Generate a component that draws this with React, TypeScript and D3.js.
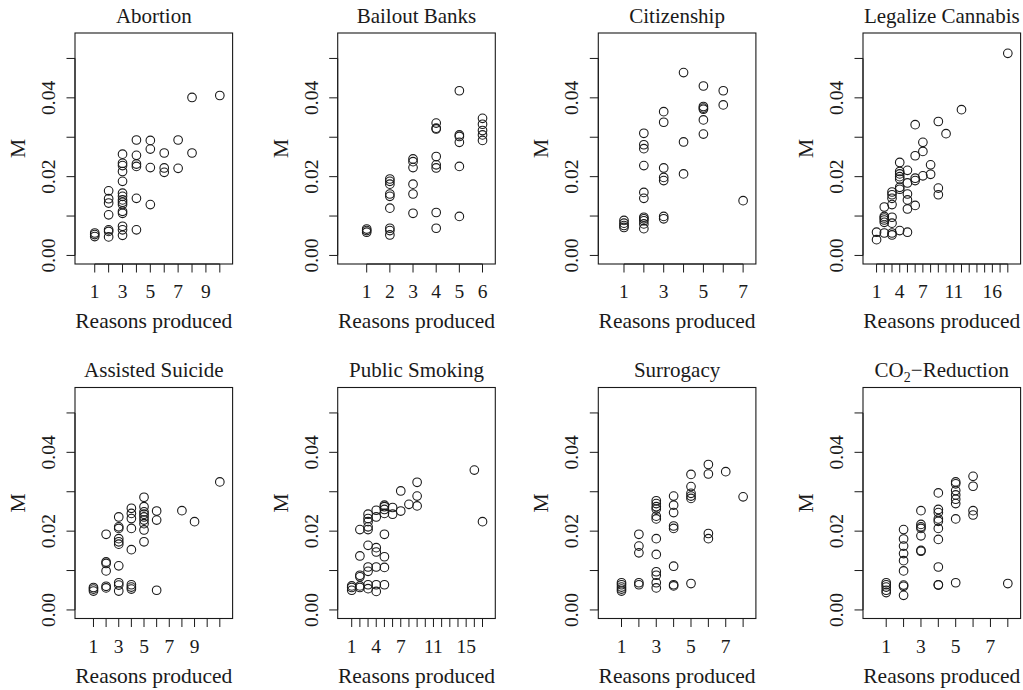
import React from 'react'
import * as d3 from 'd3'

type Group = [number, number[]]

// y values of M grouped by number of reasons produced
const abortion: Group[] = [
    [1, [0.0057, 0.0053, 0.0048]],
    [2, [0.0164, 0.0144, 0.0133, 0.0103, 0.0065, 0.0061, 0.0047]],
    [3, [0.0257, 0.0234, 0.0228, 0.0213, 0.0188, 0.0158, 0.0150, 0.0141, 0.0135, 0.0129, 0.0112, 0.0107, 0.0074, 0.0065, 0.0051]],
    [4, [0.0293, 0.0254, 0.0232, 0.0226, 0.0145, 0.0065]],
    [5, [0.0292, 0.0270, 0.0223, 0.0129]],
    [6, [0.0260, 0.0222, 0.0211]],
    [7, [0.0293, 0.0221]],
    [8, [0.0401, 0.0260]],
    [10, [0.0406]],
]

const bailout: Group[] = [
    [1, [0.0067, 0.0063, 0.0059]],
    [2, [0.0194, 0.0188, 0.0181, 0.0156, 0.0150, 0.0120, 0.0069, 0.0063, 0.0052]],
    [3, [0.0245, 0.0238, 0.0223, 0.0181, 0.0156, 0.0107]],
    [4, [0.0336, 0.0323, 0.0321, 0.0251, 0.0230, 0.0222, 0.0109, 0.0069]],
    [5, [0.0418, 0.0306, 0.0302, 0.0287, 0.0226, 0.0099]],
    [6, [0.0348, 0.0333, 0.0317, 0.0306, 0.0292]],
]

const citizenship: Group[] = [
    [1, [0.0089, 0.0082, 0.0076, 0.0071]],
    [2, [0.0310, 0.0281, 0.0271, 0.0228, 0.0160, 0.0145, 0.0097, 0.0093, 0.0088, 0.0080, 0.0068]],
    [3, [0.0365, 0.0338, 0.0222, 0.0198, 0.0190, 0.0099, 0.0093]],
    [4, [0.0464, 0.0288, 0.0207]],
    [5, [0.0430, 0.0378, 0.0374, 0.0371, 0.0344, 0.0308]],
    [6, [0.0418, 0.0382]],
    [7, [0.0139]],
]

const cannabis: Group[] = [
    [1, [0.0059, 0.0040]],
    [2, [0.0123, 0.0099, 0.0095, 0.0090, 0.0084, 0.0057]],
    [3, [0.0161, 0.0154, 0.0145, 0.0129, 0.0097, 0.0082, 0.0057, 0.0052]],
    [4, [0.0236, 0.0213, 0.0207, 0.0200, 0.0194, 0.0173, 0.0168, 0.0063]],
    [5, [0.0216, 0.0184, 0.0156, 0.0141, 0.0118, 0.0059]],
    [6, [0.0332, 0.0253, 0.0196, 0.0190, 0.0127]],
    [7, [0.0287, 0.0264, 0.0202]],
    [8, [0.0230, 0.0206]],
    [9, [0.0340, 0.0171, 0.0154]],
    [10, [0.0309]],
    [12, [0.0370]],
    [18, [0.0513]],
]

const suicide: Group[] = [
    [1, [0.0057, 0.0053, 0.0048]],
    [2, [0.0192, 0.0122, 0.0118, 0.0099, 0.0060, 0.0056]],
    [3, [0.0236, 0.0211, 0.0207, 0.0181, 0.0173, 0.0167, 0.0112, 0.0069, 0.0063, 0.0048]],
    [4, [0.0258, 0.0245, 0.0232, 0.0207, 0.0153, 0.0064, 0.0058, 0.0053]],
    [5, [0.0286, 0.0262, 0.0249, 0.0243, 0.0236, 0.0228, 0.0219, 0.0203, 0.0173]],
    [6, [0.0251, 0.0228, 0.0050]],
    [8, [0.0252]],
    [9, [0.0224]],
    [11, [0.0325]],
]

const smoking: Group[] = [
    [1, [0.0061, 0.0057, 0.0050]],
    [2, [0.0204, 0.0137, 0.0088, 0.0084, 0.0061, 0.0057]],
    [3, [0.0243, 0.0232, 0.0224, 0.0211, 0.0204, 0.0164, 0.0109, 0.0098, 0.0064, 0.0054]],
    [4, [0.0253, 0.0236, 0.0158, 0.0147, 0.0109, 0.0064, 0.0047]],
    [5, [0.0266, 0.0262, 0.0255, 0.0245, 0.0192, 0.0135, 0.0108, 0.0064]],
    [6, [0.0260, 0.0243]],
    [7, [0.0302, 0.0251]],
    [8, [0.0268]],
    [9, [0.0324, 0.0289, 0.0264]],
    [16, [0.0355]],
    [17, [0.0224]],
]

const surrogacy: Group[] = [
    [1, [0.0069, 0.0064, 0.0058, 0.0053, 0.0048]],
    [2, [0.0192, 0.0162, 0.0145, 0.0069, 0.0064]],
    [3, [0.0277, 0.0270, 0.0262, 0.0256, 0.0238, 0.0231, 0.0181, 0.0141, 0.0097, 0.0088, 0.0069, 0.0056]],
    [4, [0.0289, 0.0266, 0.0247, 0.0213, 0.0207, 0.0111, 0.0064, 0.0061]],
    [5, [0.0344, 0.0313, 0.0296, 0.0289, 0.0283, 0.0067]],
    [6, [0.0369, 0.0345, 0.0194, 0.0181]],
    [7, [0.0351]],
    [8, [0.0287]],
]

const co2: Group[] = [
    [1, [0.0069, 0.0064, 0.0058, 0.0050, 0.0044]],
    [2, [0.0204, 0.0180, 0.0162, 0.0143, 0.0125, 0.0099, 0.0063, 0.0060, 0.0037]],
    [3, [0.0252, 0.0217, 0.0211, 0.0207, 0.0188, 0.0151, 0.0149]],
    [4, [0.0297, 0.0255, 0.0247, 0.0231, 0.0225, 0.0207, 0.0179, 0.0109, 0.0064, 0.0063]],
    [5, [0.0325, 0.0320, 0.0303, 0.0292, 0.0281, 0.0270, 0.0231, 0.0069]],
    [6, [0.0339, 0.0314, 0.0252, 0.0241]],
    [8, [0.0067]],
]

const titles = ['Abortion', 'Bailout Banks', 'Citizenship', 'Legalize Cannabis',
    'Assisted Suicide', 'Public Smoking', 'Surrogacy', 'CO2-Reduction']
const panels = [abortion, bailout, citizenship, cannabis, suicide, smoking, surrogacy, co2]
// x tick labels that R managed to print without overlap
const xLabels = [
    [1, 3, 5, 7, 9], [1, 2, 3, 4, 5, 6], [1, 3, 5, 7], [1, 4, 7, 11, 16],
    [1, 3, 5, 7, 9], [1, 4, 7, 11, 15], [1, 3, 5, 7], [1, 3, 5, 7],
]
const yTicks = [0, 0.01, 0.02, 0.03, 0.04, 0.05]
const yLabels = [0, 0.02, 0.04]
const xTitle = 'Reasons produced'
const yTitle = 'M'

const W = 1023
const H = 690
const boxLefts = [75, 337.7, 598.3, 863]
const boxTops = [33, 387.5]
const boxW = 157.6
const boxH = 231
const tick = 8.5
const font = "'Liberation Serif', 'DejaVu Serif', serif"
const ink = '#1a1a1a'

// R-style limits: c(0, 1.05 * max) widened by 4% each side
const yLim = 1.05 * 0.0517
const yDomain: [number, number] = [-0.04 * yLim, 1.04 * yLim]

function Panel(props: { data: Group[], title: string, labels: number[], left: number, top: number }) {
    const { data, title, labels, left, top } = props
    const maxX = d3.max(data, d => d[0]) ?? 1
    const xLim = 1.05 * maxX
    const x = d3.scaleLinear().domain([-0.04 * xLim, 1.04 * xLim]).range([left, left + boxW])
    const y = d3.scaleLinear().domain(yDomain).range([top + boxH, top])
    const xTicks = d3.range(1, maxX + 1)
    const bottom = top + boxH
    const cx = left + boxW / 2
    const cy = top + boxH / 2
    const points = data.flatMap(([k, vals]) => vals.map(v => [k, v]))

    let titleNode: React.ReactNode = title
    if (title.startsWith('CO2')) {
        titleNode = <>CO<tspan fontSize={14} dy={5}>2</tspan><tspan dy={-5}>{'\u2212Reduction'}</tspan></>
    }

    return (
        <g>
            <text x={cx} y={top - 10.5} textAnchor='middle' fontSize={21}>{titleNode}</text>
            <rect x={left} y={top} width={boxW} height={boxH} fill='none' stroke={ink} strokeWidth={1.1} />
            {/* y axis */}
            <line x1={left} x2={left} y1={y(0)} y2={y(0.05)} stroke={ink} strokeWidth={1} />
            {yTicks.map(t => (
                <line key={t} x1={left - tick} x2={left} y1={y(t)} y2={y(t)} stroke={ink} strokeWidth={1} />
            ))}
            {yLabels.map(t => (
                <text key={t} transform={`translate(${left - 20},${y(t)}) rotate(-90)`}
                    textAnchor='middle' fontSize={19.5}>{t.toFixed(2)}</text>
            ))}
            <text transform={`translate(${left - 50},${cy}) rotate(-90)`} textAnchor='middle' fontSize={21.5}>{yTitle}</text>
            {/* x axis */}
            <line x1={x(1)} x2={x(maxX)} y1={bottom} y2={bottom} stroke={ink} strokeWidth={1} />
            {xTicks.map(t => (
                <line key={t} x1={x(t)} x2={x(t)} y1={bottom} y2={bottom + tick} stroke={ink} strokeWidth={1} />
            ))}
            {labels.map(t => (
                <text key={t} x={x(t)} y={bottom + 34} textAnchor='middle' fontSize={19.5}>{t}</text>
            ))}
            <text x={cx} y={bottom + 64} textAnchor='middle' fontSize={21.5}>{xTitle}</text>
            {points.map((p, i) => (
                <circle key={i} cx={x(p[0])} cy={y(p[1])} r={4.3} fill='none' stroke={ink} strokeWidth={1.1} />
            ))}
        </g>
    )
}

export default function App() {
    return (
        <svg width={W} height={H} style={{ position: 'absolute', left: 0, top: 0, background: '#fff' }}
            fontFamily={font} fill={ink}>
            {panels.map((data, i) => (
                <Panel key={titles[i]} data={data} title={titles[i]} labels={xLabels[i]}
                    left={boxLefts[i % 4]} top={boxTops[Math.floor(i / 4)]} />
            ))}
        </svg>
    )
}
